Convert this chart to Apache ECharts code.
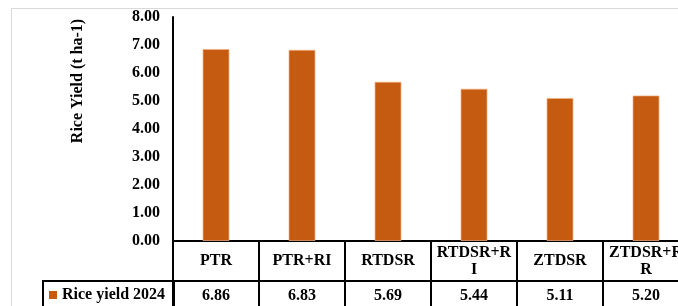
<!DOCTYPE html>
<html>
<head>
<meta charset="utf-8">
<script src="https://cdn.jsdelivr.net/npm/echarts@6/dist/echarts.min.js"></script>
<style>
    html, body { margin: 0; padding: 0; overflow: hidden; background: #fff; }
    #chart { width: 700px; height: 306px; }
</style>
</head>
<body>
<div id="chart"></div>
<script>
// 数据
const categories = ['PTR', 'PTR+RI', 'RTDSR', 'RTDSR+R\nI', 'ZTDSR', 'ZTDSR+R\nR'];
const seriesName = 'Rice yield 2024';
const riceYield2024 = [6.86, 6.83, 5.69, 5.44, 5.11, 5.20];
const yTicks = { min: 0, max: 8, interval: 1 };
const yAxisTitle = 'Rice Yield (t ha-1)';

const FONT = '"Liberation Serif", "Times New Roman", serif';

const chart = echarts.init(document.getElementById('chart'));

const option = {
    animation: false,
    backgroundColor: '#fff',
    grid: {
        left: 173,
        right: 11,
        top: 17,
        bottom: 65,
        containLabel: false
    },
    legend: {
        data: [seriesName],
        left: 49,
        top: 287,
        padding: 0,
        icon: 'rect',
        itemWidth: 8,
        itemHeight: 8,
        itemStyle: { borderWidth: 0 },
        textStyle: {
            fontFamily: FONT,
            fontWeight: 'bold',
            fontSize: 16,
            color: '#000'
        }
    },
    xAxis: [
        {
            // 表头：类别
            type: 'category',
            data: categories,
            position: 'bottom',
            axisLine: { show: true, lineStyle: { color: '#000', width: 2 } },
            axisTick: {
                show: true,
                alignWithLabel: false,
                length: 80,
                lineStyle: { color: '#000', width: 2 }
            },
            axisLabel: {
                interval: 0,
                margin: 20,
                verticalAlign: 'middle',
                fontFamily: FONT,
                fontWeight: 'bold',
                fontSize: 16,
                lineHeight: 17,
                color: '#000'
            }
        },
        {
            // 数据行：数值
            type: 'category',
            data: riceYield2024.map(v => v.toFixed(2)),
            position: 'bottom',
            offset: 40,
            axisLine: { show: true, lineStyle: { color: '#000', width: 2 } },
            axisTick: { show: false },
            axisLabel: {
                interval: 0,
                margin: 15,
                verticalAlign: 'middle',
                fontFamily: FONT,
                fontWeight: 'bold',
                fontSize: 16,
                color: '#000'
            }
        }
    ],
    yAxis: {
        type: 'value',
        min: yTicks.min,
        max: yTicks.max,
        interval: yTicks.interval,
        axisLine: { show: true, lineStyle: { color: '#000', width: 2 } },
        axisTick: { show: false },
        splitLine: { show: false },
        axisLabel: {
            margin: 13,
            fontFamily: FONT,
            fontWeight: 'bold',
            fontSize: 16,
            color: '#000',
            formatter: v => v.toFixed(2)
        }
    },
    series: [{
        name: seriesName,
        type: 'bar',
        xAxisIndex: 0,
        data: riceYield2024,
        barWidth: 27,
        itemStyle: {
            color: '#C55A11',
            borderColor: 'rgba(244, 177, 131, 0.7)',
            borderWidth: 1
        }
    }],
    graphic: [
        {
            // 外框（浅灰）
            type: 'rect',
            shape: { x: 11.5, y: 8.5, width: 800, height: 400 },
            style: { fill: 'none', stroke: '#d9d9d9', lineWidth: 1 },
            z: -1
        },
        {
            // 图例单元格
            type: 'rect',
            shape: { x: 43, y: 281, width: 131, height: 60 },
            style: { fill: 'none', stroke: '#000', lineWidth: 2 }
        },
        {
            type: 'text',
            x: 78,
            y: 81,
            rotation: Math.PI / 2,
            style: {
                text: yAxisTitle,
                fontFamily: FONT,
                fontWeight: 'bold',
                fontSize: 16,
                fill: '#000',
                textAlign: 'center',
                textVerticalAlign: 'middle'
            }
        }
    ]
};

chart.setOption(option);
</script>
</body>
</html>
